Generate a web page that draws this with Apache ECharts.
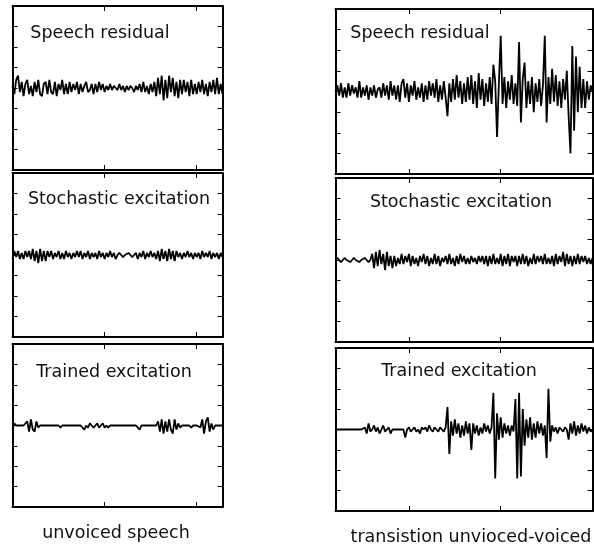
<!DOCTYPE html>
<html>
<head>
<meta charset="utf-8">
<script src="https://cdn.jsdelivr.net/npm/echarts@6/dist/echarts.min.js"></script>
<style>
  html, body { margin: 0; padding: 0; background: #fff; }
  #main { width: 594px; height: 547px; }
</style>
</head>
<body>
<div id="main"></div>
<script>
// sample index -> x: start + i * step
const leftStart = 0;
const rightStart = 20;
const step = 2;

const titles = ['Speech residual', 'Stochastic excitation', 'Trained excitation'];
const captions = ['unvoiced speech', 'transistion unvioced-voiced'];
const xTicks = [100, 200];

// unvoiced speech (left column)
const residualUnvoiced = [
  1,-3,4,6,-2,3,-4,2,4,-3,1,-4,3,-2,4,-3,
  -4,2,3,-3,4,-2,-3,3,-4,2,-1,4,-3,2,
  -3,3,-2,2,-1,3,-3,2,-2,1,3,-2,-1,2,-3,2,-2,3,-1,2,
  -2,1,-1,2,-1,1,0,-1,2,-1,1,-2,1,-1,1,0,-2,1,-1,2,
  -2,3,-2,1,-3,2,-2,3,
  -4,5,-3,6,-6,4,-5,6,-2,5,-4,3,-5,4,
  -3,4,-2,3,-4,4,-3,2,-3,3,-2,4,-3,2,-4,3,-2,4,-3,5,-3,2,-3
];
const stochasticUnvoiced = [
  -2,2,-1,2,-2,1,-2,2,-1,2,-2,
  3,-3,2,-4,3,-3,2,-3,
  2,-1,2,-2,1,-1,2,-2,1,-2,2,-1,1,-2,1,-1,2,-1,2,-2,
  1,-1,2,-2,1,-1,1,-2,2,-1,1,-2,1,-1,2,-1,1,-2,
  0,1,0,-1,0,0,1,0,-1,0,
  1,-2,1,-1,2,-2,1,-1,2,-1,1,-2,
  2,-3,3,-2,2,-3,3,-2,2,-3,2,-1,
  1,-2,1,-1,2,-1,1,-2,1,-1,1,-2,2,-1,1,-1,2,-2,1,-1,1,-2,1,-1
];
const trainedUnvoiced = [
  -2,1,0,0,0,0,0,0,
  2,-3,3,-2,-3,2,-1,
  0,0,0,0,0,0,0,0,0,0,0,-1,0,0,0,0,0,0,0,0,0,0,0,0,-2,
  0,-1,1,0,-1,0,1,-1,0,1,-1,0,-1,0,
  0,0,0,0,0,0,0,0,0,0,0,0,0,0,0,-2,0,0,0,0,0,0,0,0,0,
  2,-3,3,-4,2,-3,3,-2,-4,3,-2,1,-1,0,
  0,0,0,0,-1,0,0,0,0,
  -1,3,-4,2,4,-3,1,-2,0,
  0,0,0,0
];

// transition unvoiced-voiced (right column)
const residualTransition = [
  0,3,-2,4,-3,2,-3,4,-2,3,-1,2,-3,5,-3,2,-2,3,-4,2,-2,3,-3,1,2,-3,4,-2,3,-4,5,-2,3,
  -4,3,-5,4,6,-3,4,-5,3,-2,5,-4,2,-3,4,-5,3,-4,5,-2,4,-3,6,-5,3,-4,5,-3,
  -12,4,-5,6,-4,8,-3,5,-6,4,-5,7,-4,
  8,-6,5,-8,9,-4,6,-7,4,-5,7,-6,
  13,5,-22,4,27,
  -6,7,-8,5,-4,8,-6,4,-7,
  24,-15,6,14,-8,
  5,-6,7,-10,4,-5,6,-7,3,
  27,-15,
  7,-6,11,-5,8,-7,5,-8,6,-4,
  10,-12,-30,22,-19,17,-10,12,-8,
  6,-8,5,-4,3,0
];
const stochasticTransition = [
  0,1,0,-1,0,1,0,0,-1,0,1,0,0,-1,0,0,1,0,-1,0,
  3,-4,4,-3,5,-2,3,-5,4,-3,2,-4,
  2,-3,1,-2,3,-2,2,-1,3,-3,
  2,-2,1,-3,2,-1,3,-2,2,-3,
  1,-2,3,-2,2,-3,1,-1,2,-2,
  3,-2,1,-3,2,-2,3,-1,2,-2,
  1,-2,2,-1,1,-2,2,-1,2,-2,
  2,-3,2,-2,3,-2,1,-2,3,-3,
  2,-2,3,-3,2,-1,2,-3,2,-2,
  3,-2,2,-3,1,-2,3,-2,2,-1,
  2,-2,3,-2,1,-2,2,-3,3,-2,
  2,-1,4,-3,3,-2,2,-3,2,-2,
  3,-2,2,-1,2,-2,1,-2,1
];
const trainedTransition = [
  0,0,0,0,0,0,0,0,0,0,0,0,0,0,0,
  0,1,-2,3,-1,0,2,-1,1,-2,0,2,-1,0,1,-2,0,
  0,0,0,0,0,0,
  -4,
  0,1,-1,0,1,-1,0,-2,1,0,1,-1,2,0,-1,1,0,-1,1,0,-1,1,
  11,-12,4,
  -3,5,-2,3,-4,2,-3,4,-2,3,
  -10,
  3,-2,2,-3,1,-2,3,-1,2,-2,1,
  18,-24,8,-5,6,-4,
  3,-2,2,-3,2,-1,
  15,-24,18,-23,10,-8,
  5,-4,6,-5,3,-4,4,-2,3,-3,2,
  -14,20,-6,
  2,-1,1,-2,1,0,-1,1,0,
  -5,3,-2,4,-3,2,-2,3,-1,2,-2,1,-1,0
];

const panels = [
  { values: residualUnvoiced, start: leftStart, min: 0, max: 228, left: 12.5, top: 6, width: 210, height: 164, title: titles[0], tx: 100, ty: 33 },
  { values: stochasticUnvoiced, start: leftStart, min: 0, max: 228, left: 12.5, top: 173, width: 210, height: 164, title: titles[1], tx: 119, ty: 199 },
  { values: trainedUnvoiced, start: leftStart, min: 0, max: 228, left: 12.5, top: 344, width: 210, height: 163, title: titles[2], tx: 114, ty: 372 },
  { values: residualTransition, start: rightStart, min: 20, max: 300, left: 335.5, top: 9, width: 257, height: 165, title: titles[0], tx: 420, ty: 33 },
  { values: stochasticTransition, start: rightStart, min: 20, max: 300, left: 335.5, top: 178, width: 257, height: 164, title: titles[1], tx: 461, ty: 202 },
  { values: trainedTransition, start: rightStart, min: 20, max: 300, left: 335.5, top: 348, width: 257, height: 163, title: titles[2], tx: 459, ty: 371 }
];

const font = '17.5px "DejaVu Sans"';

function makeTick(custom) {
  const t = {
    show: true,
    inside: true,
    length: 5,
    lineStyle: { color: '#000', width: 1 }
  };
  if (custom) t.customValues = custom;
  return t;
}

const grid = [];
const xAxis = [];
const yAxis = [];
const series = [];
const graphic = [];

panels.forEach((p, k) => {
  grid.push({ left: p.left, top: p.top, width: p.width, height: p.height });
  ['bottom', 'top'].forEach(pos => {
    xAxis.push({
      gridIndex: k, type: 'value', position: pos, min: p.min, max: p.max,
      axisLine: { show: true, onZero: false, lineStyle: { color: '#000', width: 2 } },
      axisTick: makeTick(xTicks),
      axisLabel: { show: false },
      splitLine: { show: false }
    });
  });
  ['left', 'right'].forEach(pos => {
    yAxis.push({
      gridIndex: k, type: 'value', position: pos, min: -40, max: 40, interval: 10,
      axisLine: { show: true, onZero: false, lineStyle: { color: '#000', width: 2 } },
      axisTick: makeTick(),
      axisLabel: { show: false },
      splitLine: { show: false }
    });
  });
  series.push({
    type: 'line',
    xAxisIndex: 2 * k,
    yAxisIndex: 2 * k,
    symbol: 'none',
    lineStyle: { color: '#000', width: 1.8 },
    data: p.values.map((v, i) => [p.start + i * step, v])
  });
  graphic.push({
    type: 'text', x: p.tx, y: p.ty, z: 10,
    style: { text: p.title, font: font, fill: '#111', align: 'center', verticalAlign: 'middle' }
  });
});

graphic.push({
  type: 'text', x: 116, y: 533,
  style: { text: captions[0], font: font, fill: '#111', align: 'center', verticalAlign: 'middle' }
});
graphic.push({
  type: 'text', x: 471, y: 537,
  style: { text: captions[1], font: font, fill: '#111', align: 'center', verticalAlign: 'middle' }
});

const chart = echarts.init(document.getElementById('main'));
chart.setOption({
  animation: false,
  backgroundColor: '#fff',
  grid: grid,
  xAxis: xAxis,
  yAxis: yAxis,
  series: series,
  graphic: graphic
});
</script>
</body>
</html>
